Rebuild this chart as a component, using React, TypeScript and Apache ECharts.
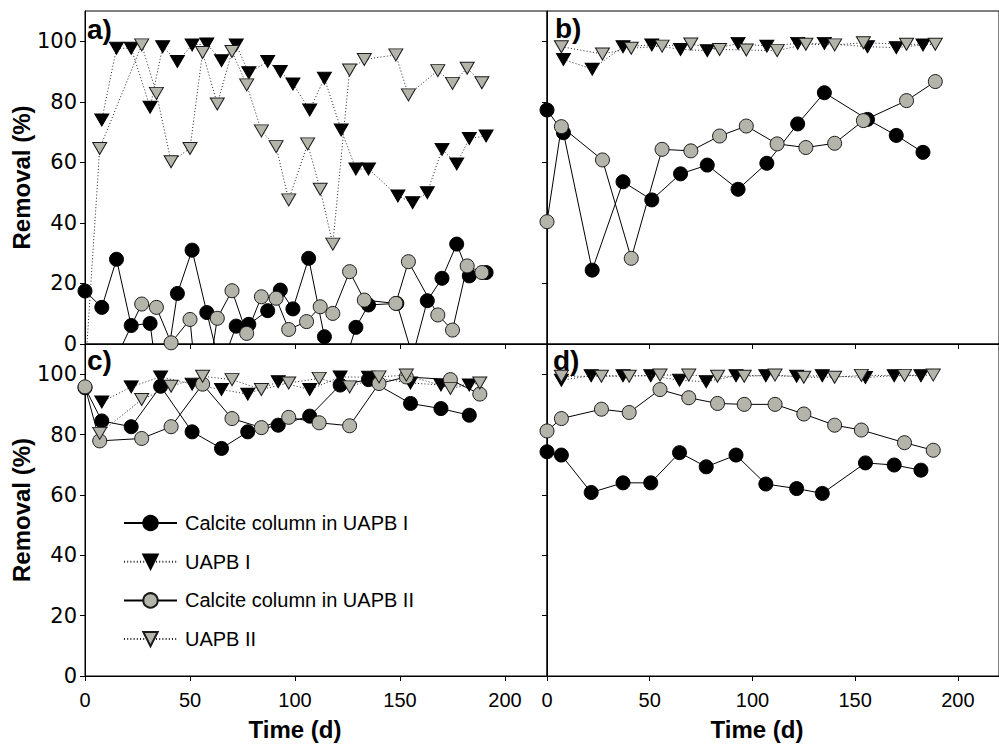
import React, { useEffect, useRef } from "react";
import * as echarts from "echarts";

// ---------- tick labels / names ----------
const X_TICKS = [0, 50, 100, 150, 200];
const Y_TICKS = [0, 20, 40, 60, 80, 100];
const SERIES_NAMES = ["Calcite column in UAPB I", "UAPB I", "Calcite column in UAPB II", "UAPB II"];
const PANEL_LABELS = ["a)", "b)", "c)", "d)"];

// ---------- panel a ----------
const aT_c1 = [0, 8, 15, 22, 31, 36, 44, 51, 58, 64.5, 72, 78, 87, 93, 99, 106.5, 114, 121, 129, 135, 148.5, 156, 163, 170, 177, 183, 191];
const aV_c1 = [17.5, 12.1, 28, 6.1, 6.8, -20, 16.7, 31, 10.4, -8, 5.9, 6.5, 11, 17.8, 11.6, 28.3, 2.4, -12, 5.5, 12.9, 13.4, -4, 14.3, 21.7, 33, 22.5, 23.6];
const aT_u1 = [8, 15, 22, 31, 37, 44, 51, 58, 65, 72, 78, 87, 93, 99, 107, 114, 122, 129, 135, 149, 156, 163, 170, 177, 183, 191];
const aV_u1 = [74, 97.7, 97.7, 78.2, 98.2, 93.3, 98.8, 99.1, 93.6, 98.8, 89.6, 93.3, 90, 85.9, 77.3, 87.8, 70.7, 57.8, 57.8, 48.9, 46.7, 50, 64.3, 59.5, 67.9, 68.7];
const aT_c2 = [7, 27, 34, 41, 50, 55, 63, 70, 77, 84, 91, 97, 105.5, 112, 118, 126, 133, 148, 154, 168, 175, 182, 189];
const aV_c2 = [-16, 13.2, 12.1, 0.4, 8.1, -28, 8.5, 17.6, 3.5, 15.6, 15.1, 4.8, 7.4, 12.3, 10.1, 23.9, 14.5, 13.4, 27.2, 9.6, 4.6, 25.8, 23.6];
const aT_u2 = [0, 7, 27, 34, 41, 50, 56, 63, 70, 77, 84, 91, 97, 106, 112, 118, 126, 133, 148, 154, 168, 175, 182, 189];
const aV_u2 = [-10, 64.6, 98.8, 82.8, 60.2, 64.6, 96.3, 79.3, 96.6, 85.6, 70.4, 65.2, 47.6, 66.1, 51.1, 33, 90.5, 94, 95.5, 82.3, 90.3, 86.1, 91.1, 86.3];

// ---------- panel b ----------
const bT_c1 = [0, 8, 22, 37, 51, 65, 78, 93, 107, 122, 135, 156, 170, 183];
const bV_c1 = [77.3, 69.8, 24.4, 53.6, 47.6, 56.2, 59.1, 51.1, 59.7, 72.7, 83, 74.2, 68.9, 63.3];
const bT_u1 = [8, 22, 37, 51, 65, 78, 93, 107, 122, 135, 156, 170, 183];
const bV_u1 = [94, 90.8, 98.2, 98.8, 97.3, 96.9, 99.3, 98.4, 99.3, 99.3, 98.2, 97.9, 98.8];
const bT_c2 = [0, 7, 27, 41, 56, 70, 84, 97, 112, 126, 140, 154, 175, 189];
const bV_c2 = [40.4, 71.8, 60.8, 28.3, 64.3, 63.8, 68.7, 72, 66.1, 64.9, 66.3, 73.8, 80.4, 86.7];
const bT_u2 = [7, 27, 41, 56, 70, 84, 97, 112, 126, 140, 154, 175, 189];
const bV_u2 = [98.2, 95.8, 97.7, 98.4, 99.1, 97.3, 97.1, 96.9, 99, 98.8, 99.5, 99, 99];

// ---------- panel c ----------
const cT_c1 = [0, 8, 22, 36, 51, 65, 77.5, 92, 107, 121.5, 135, 155, 169.5, 183];
const cV_c1 = [95.5, 84.5, 82.6, 96, 80.9, 75.4, 80.9, 83.1, 86.1, 96.4, 98.2, 90.3, 88.6, 86.4];
const cT_u1 = [8, 22, 36, 51, 65, 77.5, 92, 107, 121.5, 135, 155, 169.5, 183];
const cV_u1 = [90.8, 95.8, 99.1, 96.7, 94.9, 93.4, 97.5, 94.9, 99.1, 99, 97.1, 96.4, 96.4];
const cT_c2 = [0, 7, 27, 41, 56, 70, 84, 97, 111.5, 126, 140, 153, 174, 188];
const cV_c2 = [95.8, 77.9, 78.7, 82.6, 96.7, 85.3, 82.3, 85.7, 83.9, 82.9, 96.9, 99.1, 98.2, 93.4];
const cT_u2 = [7, 27, 41, 56, 70, 84, 97, 111.5, 126, 140, 153, 174, 188];
const cV_u2 = [80.4, 91.6, 96, 99.3, 98.2, 94.9, 97.1, 98.6, 95.8, 99.1, 99.7, 95.3, 97.1];

// ---------- panel d ----------
const dT_c1 = [0, 7, 21.5, 37, 50.5, 64.5, 77.5, 92, 106.5, 121.5, 134, 155, 169, 182];
const dV_c1 = [74.3, 73.2, 60.8, 64, 64, 74, 69.3, 73.2, 63.6, 62.1, 60.5, 70.6, 69.9, 68.2];
const dT_u1 = [7, 21.5, 37, 50.5, 64.5, 77.5, 92, 106.5, 121.5, 134, 155, 169, 182];
const dV_u1 = [98, 99.5, 99.5, 99.5, 98, 97.5, 99.5, 99.5, 99.3, 99.5, 98.9, 99.5, 99.5];
const dT_c2 = [0, 7, 26.5, 40, 55, 69, 83, 96, 111, 125, 140, 153, 174, 188];
const dV_c2 = [81.2, 85.3, 88.4, 87.3, 94.9, 92.2, 90.3, 90, 90, 86.8, 83.1, 81.5, 77.3, 74.8];
const dT_u2 = [7, 26.5, 40, 55, 69, 83, 96, 111, 125, 140, 153, 174, 188];
const dV_u2 = [99.3, 99.3, 99.3, 99.7, 99.7, 99.3, 99.3, 99.7, 99, 99, 99.6, 99.6, 99.7];

const PANELS = [
  [[aT_c1, aV_c1], [aT_u1, aV_u1], [aT_c2, aV_c2], [aT_u2, aV_u2]],
  [[bT_c1, bV_c1], [bT_u1, bV_u1], [bT_c2, bV_c2], [bT_u2, bV_u2]],
  [[cT_c1, cV_c1], [cT_u1, cV_u1], [cT_c2, cV_c2], [cT_u2, cV_u2]],
  [[dT_c1, dV_c1], [dT_u1, dV_u1], [dT_c2, dV_c2], [dT_u2, dV_u2]],
];

const GRAY = "#b4b4aa";
const GRIDS = [
  { left: 85, top: 11, width: 462, height: 333 },
  { left: 547, top: 11, width: 462, height: 333 },
  { left: 85, top: 344, width: 462, height: 332 },
  { left: 547, top: 344, width: 462, height: 332 },
];

const STYLES = [
  {
    symbol: "circle", symbolSize: 14, symbolRotate: 0,
    itemStyle: { color: "#000", borderColor: "#000", borderWidth: 1 },
    lineStyle: { color: "#000", width: 1, type: "solid" },
  },
  {
    symbol: "triangle", symbolSize: [14, 12], symbolRotate: 180,
    itemStyle: { color: "#000", borderColor: "#000", borderWidth: 1 },
    lineStyle: { color: "#222", width: 1, type: [1, 2.2] },
  },
  {
    symbol: "circle", symbolSize: 14, symbolRotate: 0,
    itemStyle: { color: GRAY, borderColor: "#1a1a1a", borderWidth: 1 },
    lineStyle: { color: "#000", width: 1, type: "solid" },
  },
  {
    symbol: "triangle", symbolSize: [14, 12], symbolRotate: 180,
    itemStyle: { color: GRAY, borderColor: "#1a1a1a", borderWidth: 1 },
    lineStyle: { color: "#222", width: 1, type: [1, 2.2] },
  },
];

function pairs(t: number[], v: number[]) {
  return t.map((x, i) => [x, v[i]]);
}

function buildOption() {
  const xAxes = GRIDS.map((_, i) => ({
    type: "value",
    gridIndex: i,
    min: 0,
    max: 220,
    interval: 50,
    axisLine: { show: true, onZero: false, lineStyle: { color: "#000", width: 1 } },
    axisTick: { show: true, inside: false, length: 5, lineStyle: { color: "#000" }, customValues: X_TICKS },
    axisLabel: {
      show: i >= 2,
      customValues: X_TICKS,
      fontSize: 20,
      fontFamily: "Liberation Sans, Arial, sans-serif",
      color: "#000",
      margin: 14,
    },
    splitLine: { show: false },
  }));
  const yAxes = GRIDS.map((_, i) => ({
    type: "value",
    gridIndex: i,
    min: 0,
    max: 110,
    interval: 20,
    name: i % 2 === 0 ? "Removal (%)" : "",
    nameLocation: "middle",
    nameGap: 50,
    nameTextStyle: {
      fontSize: 24,
      fontWeight: "bold",
      fontFamily: "Liberation Sans, Arial, sans-serif",
      color: "#000",
    },
    axisLine: { show: true, onZero: false, lineStyle: { color: "#000", width: 1 } },
    axisTick: { show: true, inside: false, length: 5, lineStyle: { color: "#000" }, customValues: Y_TICKS },
    axisLabel: {
      show: i % 2 === 0,
      customValues: Y_TICKS,
      fontSize: 21,
      fontFamily: "DejaVu Sans, sans-serif",
      color: "#000",
      margin: 8,
    },
    splitLine: { show: false },
  }));

  const series: any[] = [];
  PANELS.forEach((panel, p) => {
    panel.forEach((sd, k) => {
      const st = STYLES[k];
      series.push({
        type: "line",
        name: SERIES_NAMES[k],
        xAxisIndex: p,
        yAxisIndex: p,
        data: pairs(sd[0], sd[1]),
        symbol: st.symbol,
        symbolSize: st.symbolSize,
        symbolRotate: st.symbolRotate,
        itemStyle: st.itemStyle,
        lineStyle: st.lineStyle,
        showSymbol: true,
        clip: true,
        emphasis: { disabled: true },
        z: 2 + k,
      });
    });
  });

  const labelPos = [
    [87, 29],
    [555, 28],
    [87, 360],
    [553, 360],
  ];

  const graphics: any[] = PANEL_LABELS.map((lab, i) => ({
    type: "text",
    x: labelPos[i][0],
    y: labelPos[i][1],
    z: 100,
    style: {
      text: lab,
      fontSize: 28,
      fontWeight: "bold",
      fontFamily: "Liberation Sans, Arial, sans-serif",
      fill: "#000",
      align: "left",
      verticalAlign: "middle",
    },
  }));
  [295, 757].forEach((cx) => {
    graphics.push({
      type: "text",
      x: cx,
      y: 729,
      z: 100,
      style: {
        text: "Time (d)",
        fontSize: 24,
        fontWeight: "bold",
        fontFamily: "Liberation Sans, Arial, sans-serif",
        fill: "#000",
        align: "center",
        verticalAlign: "middle",
      },
    });
  });

  return {
    animation: false,
    backgroundColor: "#fff",
    grid: GRIDS.map((g) => ({ ...g, show: true, borderColor: "#000", borderWidth: 1, backgroundColor: "transparent", containLabel: false })),
    xAxis: xAxes,
    yAxis: yAxes,
    legend: {
      orient: "vertical",
      left: 118,
      top: 508,
      itemWidth: 53,
      itemHeight: 18,
      itemGap: 18.7,
      selectedMode: false,
      data: SERIES_NAMES,
      textStyle: {
        fontSize: 20,
        lineHeight: 18,
        fontFamily: "Liberation Sans, Arial, sans-serif",
        color: "#000",
        padding: [0, 0, 0, 3],
      },
    },
    graphic: graphics,
    series,
  };
}

export default function App() {
  const ref = useRef<HTMLDivElement>(null);
  useEffect(() => {
    if (!ref.current) return;
    const chart = echarts.init(ref.current, null, { renderer: "svg" });
    chart.setOption(buildOption() as any);
    return () => chart.dispose();
  }, []);
  return (
    <div
      ref={ref}
      style={{ position: "fixed", left: 0, top: 0, width: 999, height: 744, background: "#fff" }}
    />
  );
}
